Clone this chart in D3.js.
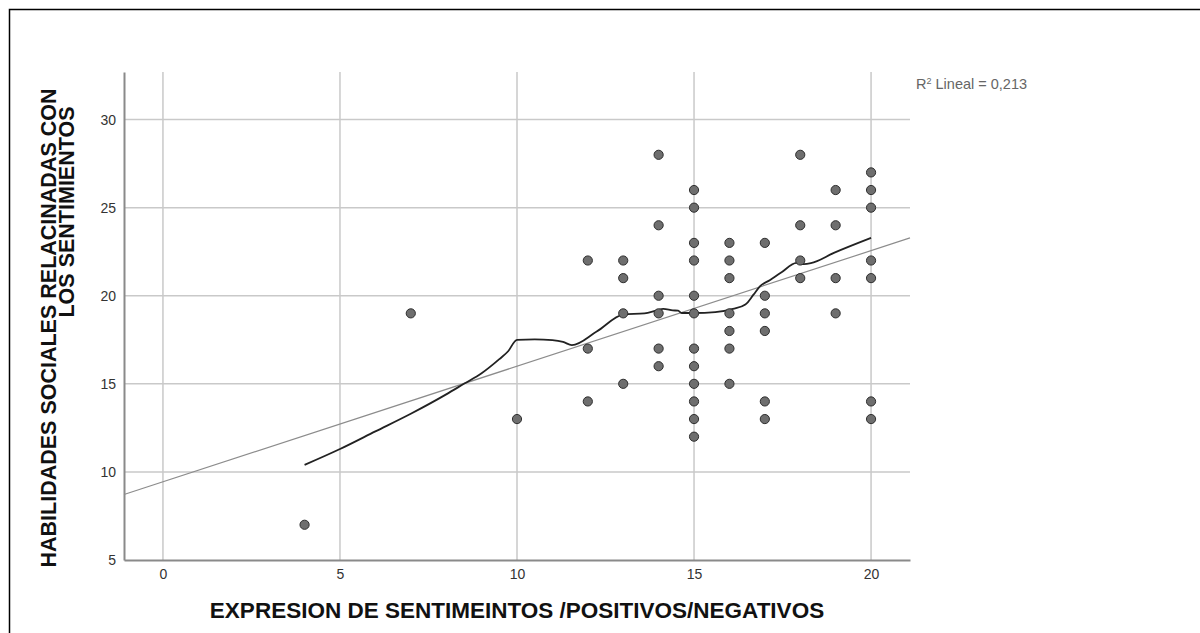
<!DOCTYPE html>
<html>
<head>
<meta charset="utf-8">
<script src="https://cdn.jsdelivr.net/npm/d3@7.9.0/dist/d3.min.js"></script>
<style>
  html, body { margin: 0; padding: 0; background: #fff; }
  svg { display: block; font-family: "Liberation Sans", Arial, sans-serif; }
</style>
</head>
<body>
<svg id="chart" width="1200" height="633"></svg>
<script>
// scatter values: [expresion, habilidades]
var pointsX = [4, 7, 10,
  12, 12, 12,
  13, 13, 13, 13,
  14, 14, 14, 14, 14, 14,
  15, 15, 15, 15, 15, 15, 15, 15, 15, 15, 15, 15,
  16, 16, 16, 16, 16, 16, 16,
  17, 17, 17, 17, 17, 17,
  18, 18, 18, 18,
  19, 19, 19, 19,
  20, 20, 20, 20, 20, 20, 20]
var pointsY = [7, 19, 13,
  22, 17, 14,
  22, 21, 19, 15,
  28, 24, 20, 19, 17, 16,
  26, 25, 23, 22, 20, 19, 17, 16, 15, 14, 13, 12,
  23, 22, 21, 19, 18, 17, 15,
  23, 20, 19, 18, 14, 13,
  28, 24, 22, 21,
  26, 24, 21, 19,
  27, 26, 25, 22, 21, 14, 13]

// loess curve as drawn
var loessX = [4, 5, 6, 7, 8, 8.5, 9, 9.5, 9.75, 10, 10.5, 11, 11.3, 11.55, 12.25, 13, 13.6, 13.95, 14.13, 14.4, 14.55, 14.65, 15, 15.6, 16.1, 16.45, 16.68, 16.86, 17.15, 17.45, 17.9, 18.1, 18.3, 18.95, 20]
var loessY = [10.4, 11.3, 12.3, 13.3, 14.4, 15.0, 15.6, 16.4, 16.85, 17.5, 17.52, 17.48, 17.38, 17.2, 17.97, 18.93, 19.0, 19.17, 19.25, 19.17, 19.15, 19.02, 19.02, 19.07, 19.25, 19.5, 20.06, 20.53, 20.9, 21.3, 21.86, 21.8, 21.85, 22.43, 23.28]

// linear fit
var fitIntercept = 9.44
var fitSlope = 0.656
var r2Label = '0,213'

var xTicks = [0, 5, 10, 15, 20]
var yTicks = [5, 10, 15, 20, 25, 30]
var xDomain = [-1.1, 21.1]
var yDomain = [5, 32.7]

var xTitle = 'EXPRESION DE SENTIMEINTOS /POSITIVOS/NEGATIVOS'
var yTitle = ['HABILIDADES SOCIALES RELACINADAS CON', 'LOS SENTIMIENTOS']

var svg = d3.select('#chart')
var L = 124, R = 910, T = 72, B = 560

// outer frame (only top/left visible in the crop)
svg.append('rect')
  .attr('x', 9.5).attr('y', 9.5)
  .attr('width', 1300).attr('height', 700)
  .attr('fill', 'none').attr('stroke', '#000').attr('stroke-width', 1.5)

var x = d3.scaleLinear().domain(xDomain).range([L, R])
var y = d3.scaleLinear().domain(yDomain).range([B, T])

// grid
var grid = svg.append('g')
grid.selectAll('line.gx').data(xTicks).enter().append('line')
  .attr('x1', function (d) { return x(d) }).attr('x2', function (d) { return x(d) })
  .attr('y1', T).attr('y2', B)
  .attr('stroke', '#c9c9c9').attr('stroke-width', 1.5)
grid.selectAll('line.gy').data(yTicks.slice(1)).enter().append('line')
  .attr('x1', L).attr('x2', R)
  .attr('y1', function (d) { return y(d) }).attr('y2', function (d) { return y(d) })
  .attr('stroke', '#c9c9c9').attr('stroke-width', 1.5)

// axes
var xAxis = svg.append('g').attr('transform', 'translate(0,' + B + ')')
  .call(d3.axisBottom(x).tickValues(xTicks).tickSize(0).tickPadding(9))
var yAxis = svg.append('g').attr('transform', 'translate(' + L + ',0)')
  .call(d3.axisLeft(y).tickValues(yTicks).tickSize(0).tickPadding(8))
;[xAxis, yAxis].forEach(function (a) {
  a.select('.domain').attr('stroke', '#8a8a8a').attr('stroke-width', 2)
  a.selectAll('text').attr('font-size', '14px').attr('fill', '#333')
    .attr('font-family', '"Liberation Sans", Arial, sans-serif')
})
yAxis.selectAll('text').attr('dy', '0.35em')

// fit line
svg.append('line')
  .attr('x1', x(xDomain[0])).attr('y1', y(fitIntercept + fitSlope * xDomain[0]))
  .attr('x2', x(xDomain[1])).attr('y2', y(fitIntercept + fitSlope * xDomain[1]))
  .attr('stroke', '#8c8c8c').attr('stroke-width', 1.2)

// loess
var loess = loessX.map(function (d, i) { return [d, loessY[i]] })
svg.append('path')
  .datum(loess)
  .attr('fill', 'none').attr('stroke', '#222').attr('stroke-width', 1.8)
  .attr('d', d3.line().x(function (d) { return x(d[0]) }).y(function (d) { return y(d[1]) }).curve(d3.curveMonotoneX))

// points
svg.append('g').selectAll('circle')
  .data(pointsX.map(function (d, i) { return [d, pointsY[i]] }))
  .enter().append('circle')
  .attr('cx', function (d) { return x(d[0]) })
  .attr('cy', function (d) { return y(d[1]) })
  .attr('r', 4.6)
  .attr('fill', '#6e6e6e').attr('stroke', '#2e2e2e').attr('stroke-width', 1)

// R2 label
var r2 = svg.append('text').attr('x', 916).attr('y', 89)
  .attr('font-size', '14.5px').attr('fill', '#666')
r2.append('tspan').text('R')
r2.append('tspan').attr('font-size', '9px').attr('dy', '-5').text('2')
r2.append('tspan').attr('dy', '5').text(' Lineal = ' + r2Label)

// titles
svg.append('text')
  .attr('x', 517).attr('y', 618)
  .attr('text-anchor', 'middle')
  .attr('font-size', '22.5px').attr('font-weight', 'bold').attr('fill', '#111')
  .text(xTitle)

svg.append('text')
  .attr('transform', 'translate(56,328) rotate(-90)')
  .attr('text-anchor', 'middle')
  .attr('font-size', '21.5px').attr('font-weight', 'bold').attr('fill', '#111')
  .text(yTitle[0])
svg.append('text')
  .attr('transform', 'translate(74,212) rotate(-90)')
  .attr('text-anchor', 'middle')
  .attr('font-size', '21.5px').attr('font-weight', 'bold').attr('fill', '#111')
  .text(yTitle[1])
</script>
</body>
</html>
